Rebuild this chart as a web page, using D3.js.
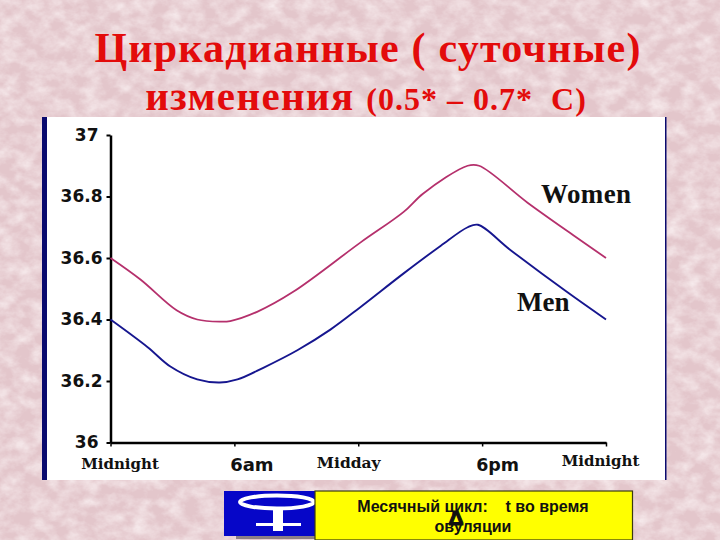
<!DOCTYPE html>
<html>
<head>
<meta charset="utf-8">
<script src="https://cdn.jsdelivr.net/npm/d3@7"></script>
<style>
    html, body { margin: 0; padding: 0; background: #e5c9cd; }
    svg { display: block; }
</style>
</head>
<body>
<div id="container"></div>
<script>
// values: hour of day -> temperature
const women_hours = [0, 1.45, 3.2, 4.2, 5.3, 5.8, 7.1, 8.85, 12.1, 14.2, 15.15, 17.3, 17.85, 20.2, 22.4, 24];
const women_temps = [36.6, 36.53, 36.43, 36.4, 36.393, 36.395, 36.425, 36.49, 36.65, 36.75, 36.81, 36.9, 36.9, 36.78, 36.675, 36.6];
const men_hours = [0, 1.8, 2.9, 4.2, 5.3, 6.15, 7.4, 9.05, 10.65, 12.1, 14.2, 16, 17.3, 17.8, 19.35, 22.1, 24];
const men_temps = [36.4, 36.31, 36.247, 36.205, 36.195, 36.205, 36.243, 36.3, 36.367, 36.44, 36.55, 36.64, 36.7, 36.708, 36.627, 36.49, 36.4];
const y_ticks = [36, 36.2, 36.4, 36.6, 36.8, 37];
const y_labels = ["36", "36.2", "36.4", "36.6", "36.8", "37"];
const x_ticks = [0, 6, 12, 18, 24];
const x_labels = ["Midnight", "6am", "Midday", "6pm", "Midnight"];

const svg = d3.select("#container").append("svg")
    .attr("width", 720)
    .attr("height", 540)
    .attr("viewBox", "0 0 720 540");

// mottled paper background
const defs = svg.append("defs");
const paper = defs.append("filter").attr("id", "paper")
    .attr("x", 0).attr("y", 0).attr("width", "100%").attr("height", "100%");
paper.append("feTurbulence")
    .attr("type", "fractalNoise")
    .attr("baseFrequency", "0.06 0.08")
    .attr("numOctaves", 4)
    .attr("seed", 7);
paper.append("feColorMatrix")
    .attr("type", "matrix")
    .attr("values", "0 0 0 0 0.95  0 0 0 0 0.87  0 0 0 0 0.88  1.5 0 0 0 -0.5");
svg.append("rect").attr("width", 720).attr("height", 540).attr("fill", "#e3c6cb");
svg.append("rect").attr("width", 720).attr("height", 540).attr("filter", "url(#paper)");

// title
const title_red = "#e30b0b";
svg.append("text")
    .attr("x", 368).attr("y", 62)
    .attr("text-anchor", "middle")
    .style("font", "bold 42px 'Liberation Serif'")
    .style("letter-spacing", "1.2px")
    .attr("fill", title_red)
    .text("Циркадианные ( суточные)");
const sub = svg.append("text")
    .attr("x", 366).attr("y", 110)
    .attr("text-anchor", "middle")
    .style("white-space", "pre")
    .attr("fill", title_red)
    .style("font-family", "'Liberation Serif'")
    .style("font-weight", "bold");
sub.append("tspan").style("font-size", "41px").style("letter-spacing", "1.4px").text("изменения ");
sub.append("tspan").style("font-size", "32px").style("letter-spacing", "1px").text("(0.5* – 0.7*  C)");

// white panel of the chart
svg.append("rect").attr("x", 42).attr("y", 117).attr("width", 624).attr("height", 363).attr("fill", "#fff");
svg.append("rect").attr("x", 42).attr("y", 117).attr("width", 5).attr("height", 363).attr("fill", "#0a0a6e");
svg.append("rect").attr("x", 665).attr("y", 117).attr("width", 1.5).attr("height", 363).attr("fill", "#0a0a6e");

const x = d3.scaleLinear().domain([0, 24]).range([110.5, 606]);
const y = d3.scaleLinear().domain([36, 37]).range([442.5, 135]);

const xAxis = svg.append("g")
    .attr("transform", `translate(0,${y(36)})`)
    .call(d3.axisBottom(x).tickValues(x_ticks).tickFormat((d, i) => x_labels[i]).tickSize(4).tickSizeOuter(0));
const yAxis = svg.append("g")
    .attr("transform", `translate(${x(0)},0)`)
    .call(d3.axisLeft(y).tickValues(y_ticks).tickFormat((d, i) => y_labels[i]).tickSize(4).tickSizeOuter(0));

xAxis.select(".domain").attr("stroke", "#000").attr("stroke-width", 2.5);
yAxis.select(".domain").attr("stroke", "#000").attr("stroke-width", 2.5);
xAxis.selectAll(".tick line").attr("stroke", "#000").attr("stroke-width", 1.5);
yAxis.selectAll(".tick line").attr("stroke", "#000").attr("stroke-width", 2);

// the source labels sit off their ticks
const x_label_dx = [9, 17, -10, 15, -6];
const x_label_y = [22, 23, 21, 23, 19];
const x_label_size = [15, 18, 15.5, 17.5, 15];
xAxis.selectAll(".tick text")
    .attr("dx", (d, i) => x_label_dx[i])
    .attr("y", (d, i) => x_label_y[i])
    .attr("dy", "0.32em")
    .attr("fill", "#111")
    .style("font-family", (d, i) => i % 2 === 0 ? "'DejaVu Serif'" : "'DejaVu Sans'")
    .style("font-weight", "bold")
    .style("font-size", (d, i) => x_label_size[i] + "px");
yAxis.selectAll(".tick text")
    .attr("x", d => (d === 36 || d === 37) ? -12 : -8)
    .attr("fill", "#111")
    .style("font-family", "'DejaVu Sans'")
    .style("font-weight", "bold")
    .style("font-size", "17px");

const line = d3.line().x(d => x(d[0])).y(d => y(d[1])).curve(d3.curveCatmullRom.alpha(0.5));

svg.append("path")
    .datum(d3.zip(women_hours, women_temps))
    .attr("d", line)
    .attr("fill", "none")
    .attr("stroke", "#b5306c")
    .attr("stroke-width", 1.8);
svg.append("path")
    .datum(d3.zip(men_hours, men_temps))
    .attr("d", line)
    .attr("fill", "none")
    .attr("stroke", "#16168f")
    .attr("stroke-width", 1.9);

svg.append("text")
    .attr("x", 541).attr("y", 203)
    .style("font", "bold 27px 'Liberation Serif'")
    .style("letter-spacing", "0.4px")
    .attr("fill", "#111")
    .text("Women");
svg.append("text")
    .attr("x", 517).attr("y", 311)
    .style("font", "bold 27px 'Liberation Serif'")
    .attr("fill", "#111")
    .text("Men");

// bottom strip: blue female sign button and yellow note
svg.append("rect").attr("x", 236).attr("y", 494).attr("width", 85).attr("height", 45).attr("fill", "#8d7f86");
svg.append("rect").attr("x", 224).attr("y", 491).attr("width", 92).attr("height", 45).attr("fill", "#0606c8");
svg.append("ellipse")
    .attr("cx", 277).attr("cy", 502).attr("rx", 37).attr("ry", 6.5)
    .attr("fill", "none").attr("stroke", "#fff").attr("stroke-width", 4);
svg.append("rect").attr("x", 273).attr("y", 509).attr("width", 10).attr("height", 22).attr("fill", "#fff");
svg.append("rect").attr("x", 256).attr("y", 523).attr("width", 45).attr("height", 3).attr("fill", "#fff");

svg.append("rect")
    .attr("x", 315).attr("y", 491).attr("width", 317.5).attr("height", 49)
    .attr("fill", "#ffff00").attr("stroke", "#3a3a10").attr("stroke-width", 1.2);
svg.append("text")
    .attr("x", 473).attr("y", 512)
    .attr("text-anchor", "middle")
    .style("white-space", "pre")
    .style("font", "bold 16px 'Liberation Sans'")
    .attr("fill", "#111")
    .text("Месячный цикл:    t во время");
svg.append("text")
    .attr("x", 473).attr("y", 532)
    .attr("text-anchor", "middle")
    .style("font", "bold 16px 'Liberation Sans'")
    .attr("fill", "#111")
    .text("овуляции");
svg.append("text")
    .attr("x", 456).attr("y", 525)
    .attr("text-anchor", "middle")
    .style("font", "bold 21px 'Liberation Sans'")
    .attr("fill", "#111")
    .attr("stroke", "#111")
    .attr("stroke-width", 1.2)
    .text("Δ");
</script>
</body>
</html>
